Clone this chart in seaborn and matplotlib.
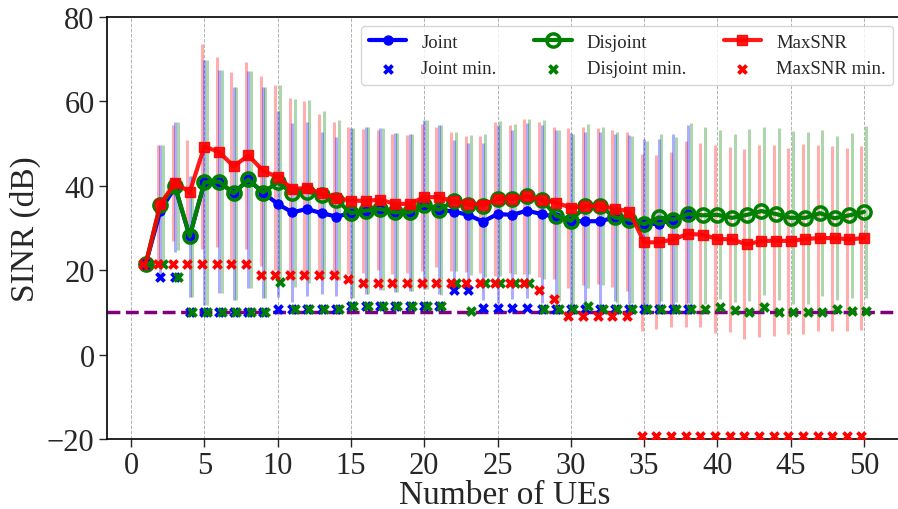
import numpy as np
import matplotlib
matplotlib.use("Agg")
import matplotlib.pyplot as plt
import seaborn as sns

# ---------------- data ----------------
ues = list(range(1, 51))
ues_joint = list(range(1, 39))

joint_mean = [21.5, 34.1, 39.7, 28.0, 40.8, 41.0, 38.2, 41.5, 38.4, 35.7,
              33.7, 34.5, 33.5, 32.7, 33.5, 34.1, 34.5, 33.7, 33.7, 35.5,
              34.3, 33.9, 33.1, 31.5, 33.3, 33.1, 34.1, 33.3, 32.6, 31.6,
              31.6, 31.6, 32.5, 32.0, 30.9, 31.0, 32.0, 33.3]
joint_std = [0.0, 15.5, 15.3, 14.4, 29.0, 26.5, 25.3, 25.7, 25.0, 22.1,
             21.2, 20.7, 19.2, 18.9, 20.1, 19.8, 19.1, 18.8, 18.6, 20.0,
             20.0, 17.0, 17.0, 18.6, 21.0, 20.0, 20.8, 21.0, 20.7, 20.9,
             21.1, 21.1, 19.8, 20.1, 20.2, 20.1, 20.3, 21.1]
joint_min = [21.5, 18.4, 18.4, 10.0, 10.0, 10.0, 10.0, 10.0, 10.0, 10.8,
             10.7, 10.7, 10.7, 10.7, 11.4, 11.4, 11.4, 11.4, 11.4, 11.4,
             11.4, 15.4, 15.4, 11.1, 11.1, 11.1, 11.1, 10.8, 10.8, 10.8,
             10.8, 10.8, 10.8, 10.8, 10.8, 10.8, 10.8, 10.8]

disjoint_mean = [21.5, 35.5, 39.9, 28.0, 40.8, 41.0, 38.2, 41.5, 38.4, 40.8,
                 38.3, 38.6, 37.9, 36.7, 33.5, 34.1, 34.5, 33.7, 33.7, 35.5,
                 34.3, 36.3, 35.5, 35.3, 36.9, 36.9, 37.5, 36.7, 32.9, 31.7,
                 35.2, 35.2, 32.5, 32.0, 30.9, 32.5, 32.0, 33.3, 33.0, 33.1,
                 32.4, 33.1, 34.0, 33.3, 32.4, 32.4, 33.5, 32.3, 33.0, 33.8]
disjoint_std = [0.0, 14.1, 15.1, 14.4, 29.0, 26.5, 25.3, 25.7, 25.0, 23.1,
                22.3, 21.7, 19.8, 19.0, 20.1, 19.8, 19.1, 18.8, 18.6, 20.0,
                20.1, 16.5, 16.6, 16.9, 18.4, 17.8, 18.4, 18.8, 20.2, 20.6,
                19.5, 18.7, 20.2, 19.8, 19.7, 19.8, 19.5, 21.6, 20.9, 20.0,
                19.9, 20.4, 19.9, 20.3, 20.5, 20.3, 19.6, 19.4, 19.6, 20.3]
disjoint_min = [21.5, 21.5, 18.4, 10.0, 10.0, 10.0, 10.0, 10.0, 10.0, 17.2,
                10.7, 10.7, 10.7, 10.7, 11.4, 11.4, 11.4, 11.4, 11.4, 11.4,
                11.4, 17.0, 10.3, 17.0, 17.0, 17.0, 17.0, 10.8, 10.8, 10.8,
                11.4, 10.8, 10.8, 10.8, 10.8, 10.8, 10.8, 10.8, 10.8, 11.2,
                10.6, 10.0, 11.2, 10.2, 10.2, 10.0, 10.0, 10.7, 10.3, 10.4]

maxsnr_mean = [21.5, 35.7, 40.7, 38.5, 49.3, 48.0, 44.6, 47.2, 43.6, 42.0,
               39.3, 39.4, 38.2, 37.1, 36.5, 36.4, 36.7, 35.7, 35.7, 37.3,
               37.3, 36.3, 35.7, 35.5, 36.9, 36.9, 37.5, 36.7, 36.0, 34.8,
               35.2, 35.2, 34.6, 33.9, 26.6, 26.6, 27.3, 28.6, 28.4, 27.4,
               27.3, 26.1, 26.9, 27.0, 26.9, 27.4, 27.6, 27.6, 27.3, 27.6]
maxsnr_std = [0.0, 13.9, 13.8, 12.4, 24.3, 22.4, 22.3, 22.1, 22.5, 21.9,
              21.5, 20.8, 18.8, 18.0, 17.5, 17.1, 16.6, 16.6, 16.4, 17.4,
              16.6, 16.5, 16.2, 16.2, 18.2, 17.5, 18.3, 18.3, 18.0, 19.0,
              18.8, 18.4, 18.5, 18.8, 21.0, 20.6, 20.8, 22.1, 21.8, 22.3,
              21.9, 22.5, 22.8, 22.6, 22.0, 22.6, 22.1, 21.9, 21.7, 21.8]
maxsnr_min = [21.5, 21.5, 21.5, 21.5, 21.5, 21.5, 21.5, 21.5, 18.9, 18.9,
              18.9, 18.9, 18.9, 18.9, 17.9, 17.0, 17.0, 17.0, 17.0, 17.0,
              17.0, 17.0, 17.0, 17.0, 17.0, 17.0, 17.0, 15.4, 13.2, 9.2,
              9.2, 9.2, 9.2, 9.2, -19.3, -19.3, -19.3, -19.3, -19.3, -19.3,
              -19.3, -19.3, -19.3, -19.3, -19.3, -19.3, -19.3, -19.3, -19.3, -19.3]

threshold = 10

# ---------------- style ----------------
sns.set_style("ticks")
plt.rcParams['font.family'] = ['Liberation Serif', 'DejaVu Serif']
plt.rcParams['axes.unicode_minus'] = True

fig = plt.figure(figsize=(8.98, 5.10), dpi=100)
ax = fig.add_axes([0.1192, 0.1373, 0.886, 0.8275])

off = 0.17
x_all = np.array(ues)
x_j = np.array(ues_joint)

# error bars (mean +/- std)
ax.errorbar(x_all - off, maxsnr_mean, yerr=maxsnr_std, fmt='none',
            ecolor='red', alpha=0.32, elinewidth=2.2, zorder=1)
ax.errorbar(x_j, joint_mean, yerr=joint_std, fmt='none',
            ecolor='blue', alpha=0.32, elinewidth=2.2, zorder=1)
ax.errorbar(x_all + off, disjoint_mean, yerr=disjoint_std, fmt='none',
            ecolor='green', alpha=0.32, elinewidth=2.2, zorder=1)

ax.axhline(threshold, color='purple', ls='--', lw=2.5, zorder=2)

# mean lines
sns.lineplot(x=x_j, y=joint_mean, color='blue', marker='o', markersize=6.5,
             markeredgecolor='blue', markeredgewidth=1, lw=3,
             label='Joint', ax=ax, zorder=3)
sns.lineplot(x=x_all, y=disjoint_mean, color='green', marker='o', markersize=9.5,
             markerfacecolor='none', markeredgecolor='green', markeredgewidth=2.5,
             lw=3, label='Disjoint', ax=ax, zorder=3)
sns.lineplot(x=x_all, y=maxsnr_mean, color='red', marker='s', markersize=6.5,
             markeredgecolor='red', markeredgewidth=1, lw=3, alpha=0.9,
             label='MaxSNR', ax=ax, zorder=3)

# minimum markers
sns.scatterplot(x=x_j, y=joint_min, color='blue', marker='X', s=60,
                linewidth=0, label='Joint min.', ax=ax, zorder=4)
sns.scatterplot(x=x_all + off, y=disjoint_min, color='green', marker='X', s=60,
                linewidth=0, label='Disjoint min.', ax=ax, zorder=4)
sns.scatterplot(x=x_all - off, y=maxsnr_min, color='red', marker='X', s=60,
                linewidth=0, label='MaxSNR min.', ax=ax, zorder=4)

ax.set_xlim(-1.64, 52.64)
ax.set_ylim(-20, 80)
ax.set_xticks(np.arange(0, 51, 5))
ax.set_yticks(np.arange(-20, 81, 20))
ax.tick_params(labelsize=22, length=6, width=1, pad=3)
ax.set_xlabel('Number of UEs', fontsize=24, labelpad=-1)
ax.set_ylabel('SINR (dB)', fontsize=24, labelpad=4)
ax.grid(axis='x', color='gray', ls='--', lw=0.7, alpha=0.6)
ax.grid(axis='y', visible=False)
for s in ax.spines.values():
    s.set_color('black')
    s.set_linewidth(1.2)

handles, labels = ax.get_legend_handles_labels()
order = ['Joint', 'Joint min.', 'Disjoint', 'Disjoint min.', 'MaxSNR', 'MaxSNR min.']
hmap = dict(zip(labels, handles))
ax.legend([hmap[k] for k in order], order, ncol=3, loc='upper right',
          fontsize=13.5, framealpha=0.8, borderaxespad=0.5)

fig.savefig('out.png', dpi=100)
